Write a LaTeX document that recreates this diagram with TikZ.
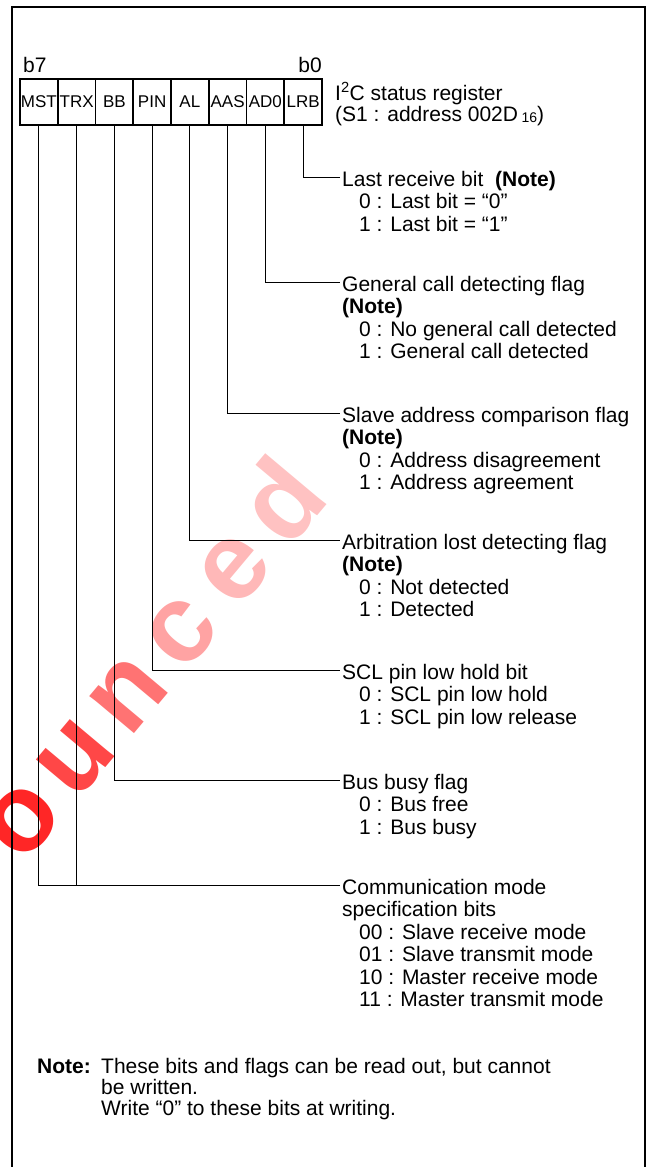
\documentclass[tikz,border=0pt]{standalone}
\usepackage{fontspec}
\setmainfont{Liberation Sans}
\usetikzlibrary{calc}
\tikzstyle{statusreg}=[
  x=1pt,y=-1pt,font=\fontsize{21}{22.5}\selectfont
]
\tikzstyle{bitcell}=[
  draw,line width=1.6pt,minimum width=37.75pt,minimum height=46pt,inner sep=0pt,font=\fontsize{17}{18}\selectfont
]
\tikzstyle{wire}=[
  line width=0.8pt
]
\tikzstyle{fieldname}=[
  anchor=west,inner sep=2pt,text height=19pt,text depth=1pt
]
\tikzstyle{fieldval}=[
  fieldname
]
\tikzstyle{plain}=[
  anchor=base west,inner sep=2pt
]
\tikzstyle{frameline}=[
  line width=2.4pt
]
\tikzstyle{stamp}=[
  anchor=base,inner sep=0pt,rotate=50,font=\fontsize{110}{110}\selectfont\bfseries
]

\begin{document}
\begin{tikzpicture}[statusreg]
  \useasboundingbox (0,0) rectangle (648,1167);
  % faded stamp behind the drawing
  \foreach \ch/\tint [count=\i from 0] in {o/85,u/72,n/55,c/36,e/28,d/24}
    \node[stamp,text=red!\tint] (stamp\i) at ($(45,840)+(53*\i,-63*\i)$) {\ch};
  \draw[frameline] (12,1170) -- (12,7) -- (645,7) -- (645,1170);
  % register
  \foreach \name/\lbl [count=\i from 0] in {mst/MST,trx/TRX,bb/BB,pin/PIN,al/AL,aas/AAS,ad0/AD0,lrb/LRB}
    \node[bitcell] (\name) at (38.875+37.75*\i,102) {\lbl};
  \node[plain] (b7) at (21,72) {b7};
  \node[plain,anchor=base east] (b0) at (324,72) {b0};
  \node[plain] (regname) at (333,100) {I\textsuperscript{2}C status register};
  \node[plain] (regaddr) at (333,121) {(S1 : address 002D\,\raisebox{-1pt}{\fontsize{14}{14}\selectfont 16})};
  % fields
  \node[fieldname] (lrbhd) at (340,177) {Last receive bit~ \textbf{(Note)}};
  \foreach \t [count=\i] in {0 : Last bit = “0”,1 : Last bit = “1”}
    \node[fieldval] (lrbv\i) at ($(lrbhd.west)+(17,22.5*\i)$) {\t};
  \node[fieldname] (ad0hd) at (340,282) {General call detecting flag};
  \node[fieldname] (ad0nt) at ($(ad0hd.west)+(0,22.5)$) {\textbf{(Note)}};
  \foreach \t [count=\i from 2] in {0 : No general call detected,1 : General call detected}
    \node[fieldval] (ad0v\i) at ($(ad0hd.west)+(17,22.5*\i)$) {\t};
  \node[fieldname] (aashd) at (340,413) {Slave address comparison flag};
  \node[fieldname] (aasnt) at ($(aashd.west)+(0,22.5)$) {\textbf{(Note)}};
  \foreach \t [count=\i from 2] in {0 : Address disagreement,1 : Address agreement}
    \node[fieldval] (aasv\i) at ($(aashd.west)+(17,22.5*\i)$) {\t};
  \node[fieldname] (alhd) at (340,540) {Arbitration lost detecting flag};
  \node[fieldname] (alnt) at ($(alhd.west)+(0,22.5)$) {\textbf{(Note)}};
  \foreach \t [count=\i from 2] in {0 : Not detected,1 : Detected}
    \node[fieldval] (alv\i) at ($(alhd.west)+(17,22.5*\i)$) {\t};
  \node[fieldname] (pinhd) at (340,670) {SCL pin low hold bit};
  \foreach \t [count=\i] in {0 : SCL pin low hold,1 : SCL pin low release}
    \node[fieldval] (pinv\i) at ($(pinhd.west)+(17,22.5*\i)$) {\t};
  \node[fieldname] (bbhd) at (340,780) {Bus busy flag};
  \foreach \t [count=\i] in {0 : Bus free,1 : Bus busy}
    \node[fieldval] (bbv\i) at ($(bbhd.west)+(17,22.5*\i)$) {\t};
  \node[fieldname] (commhd) at (340,885) {Communication mode};
  \node[fieldname] (commhd2) at ($(commhd.west)+(0,22.5)$) {specification bits};
  \foreach \t [count=\i from 2] in {00 : Slave receive mode,01 : Slave transmit mode,10 : Master receive mode,11 : Master transmit mode}
    \node[fieldval] (commv\i) at ($(commhd.west)+(17,22.5*\i)$) {\t};
  % wires
  \draw[wire] (lrb.south) |- (lrbhd.west);
  \draw[wire] (ad0.south) |- (ad0hd.west);
  \draw[wire] (aas.south) |- (aashd.west);
  \draw[wire] (al.south) |- (alhd.west);
  \draw[wire] (pin.south) |- (pinhd.west);
  \draw[wire] (bb.south) |- (bbhd.west);
  \draw[wire] (trx.south) |- (commhd.west);
  \draw[wire] (mst.south) |- (commhd.west);
  % note
  \node[plain] (note) at (35,1073) {\textbf{Note:}};
  \node[plain] (notel1) at (99,1073) {These bits and flags can be read out, but cannot};
  \node[plain] (notel2) at (99,1094) {be written.};
  \node[plain] (notel3) at (99,1115) {Write “0” to these bits at writing.};
\end{tikzpicture}
\end{document}
